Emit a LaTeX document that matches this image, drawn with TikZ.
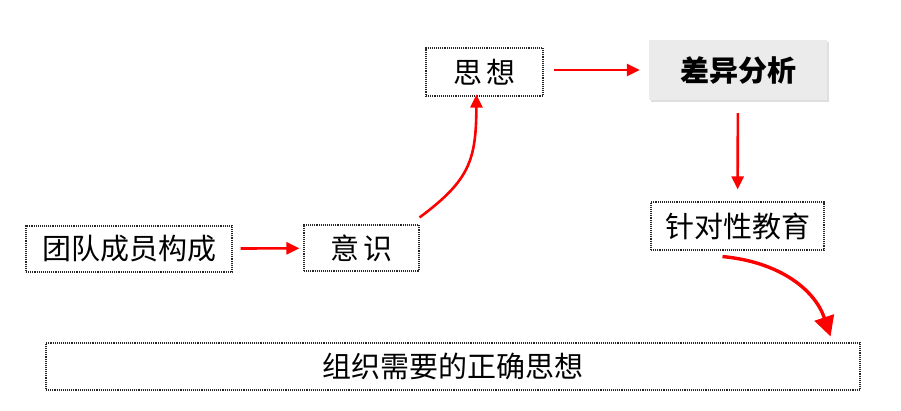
\documentclass[tikz,border=0pt]{standalone}
\usepackage{fontspec}
\setmainfont{Noto Sans CJK SC}
\usetikzlibrary{arrows.meta, positioning, shadows}
\definecolor{arrowred}{HTML}{FF0000}
\definecolor{boxgray}{HTML}{EBEBEB}

\begin{document}
\begin{tikzpicture}[x=1pt, y=-1pt,
  item/.style={rectangle, draw=black!85, densely dotted, line width=1.1pt, minimum height=46pt, align=center, font=\fontsize{29}{33}\selectfont, inner sep=0pt},
  focus/.style={rectangle, fill=boxgray, minimum height=60pt, align=center, font=\fontsize{29}{33}\selectfont\bfseries, inner sep=0pt, drop shadow={shadow xshift=2pt, shadow yshift=-2pt, fill=black!25}},
  arrow/.style={-{Triangle[length=13pt, width=12pt]}, draw=arrowred, line width=2.6pt}
]
  \useasboundingbox (0,0) rectangle (901,411);

  \node[item, minimum width=206pt] (team) at (129,249) {团队成员构成};
  \node[item, minimum width=115pt] (yishi) at (361.5,248) {意\,识};
  \node[item, minimum width=117pt, minimum height=48pt] (sixiang) at (484.5,72) {思\,想};
  \node[focus, minimum width=178pt] (chayi) at (738,70) {差异分析};
  \node[item, minimum width=173pt, minimum height=48pt] (zhendui) at (737.5,226) {针对性教育};
  \node[item, minimum width=814pt, minimum height=47pt] (zuzhi) at (453,366.5) {组织需要的正确思想};

  \draw[arrow, shorten <=8pt, shorten >=4pt] (team) -- (yishi);
  \draw[arrow] ([yshift=7pt]yishi.north east) .. controls (470,180) and (476,160) .. ([xshift=-8pt, yshift=2pt]sixiang.south);
  \draw[arrow, shorten <=10pt, shorten >=9pt] (sixiang.east |- chayi) -- (chayi);
  \draw[arrow, shorten <=13pt, shorten >=12pt] (chayi) -- (zhendui);
  \draw[arrow, line width=3.4pt, -{Triangle[length=20pt, width=20pt]}] ([xshift=-15pt, yshift=-6pt]zhendui.south) .. controls (780,262) and (815,290) .. ([xshift=-30pt, yshift=6pt]zuzhi.north east);
\end{tikzpicture}
\end{document}
